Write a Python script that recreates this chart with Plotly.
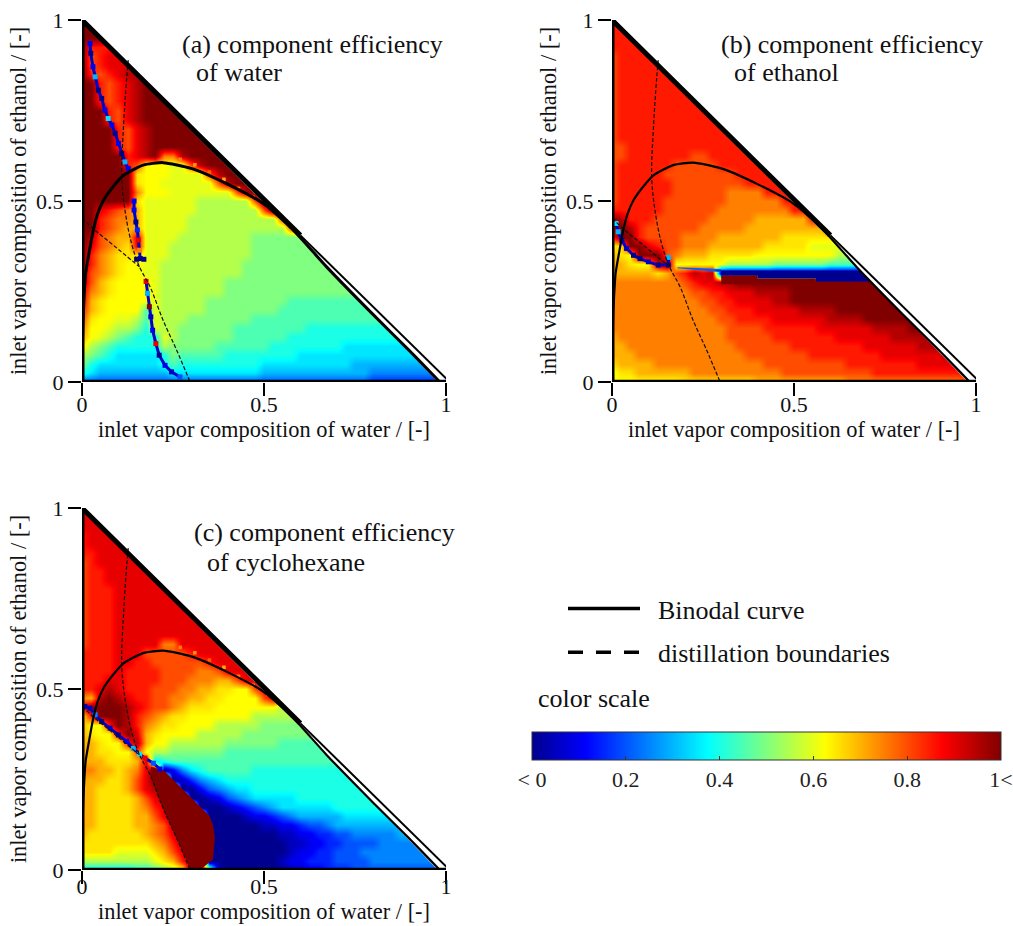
import plotly.graph_objects as go

SERIF = "Liberation Serif"
GRID_STEP = 0.025
N = 41
# Efficiency codes: a=0.00, b=0.05, ... u=1.00, v=0.625 (pure yellow).
# One string per row, from y=1 down to y=0; each string starts at x=0.
panel_a = [
"u","uu","uuu","urrr","uqrss","uqrsss","urqrstt","uurqrstu","uurqrstuu","uurqrstuuu",
"uuurqstuuuu","uuurqstuuuuu","uuuurqstuuuuu","uuuurqstuuuuuu","uuuurqstuuuuuuu",
"uuuuurstupptuuuu","uuuuurqvvvmmqtuuu","uuuuuunvvvmmmmqtuu","uuuuuunvvmmmmmmqtuu",
"uuuuuupvvvmmmmmmmqtu","uuuuuunmmmmmmllllllqu","uusrqpommmmmmlllllllqu",
"uurqppommmmmllllllllllq","uurqpoommmmmlllllllllllq","utqpoosmmmmllllllllkkkkkk",
"usqponsmmmlllllllllkkkkkkk","urponnnmmmlllllllllkkkkkkkk","trponvvmmlllllllllkkkkkkkkkk",
"tqponvvmmlllllllllkkkkkkkkkkk","tqonvvvvmlllllllkkkkkkkkkkkkkk","sponvvvvmlllllllkkkkkkkkkkkkkkk",
"sonvvvvvmlllllkkkkkkkkkjjjjjjjjj","ronvvvvjmlllllkkkkkkkkjjjjjjjjjjj",
"qnvvmmljmlllkkkkkkkjjjjjjjjjjjjjjj","pvvmllkimllkkkkkkjjjjjjjjiiiiiiiiii",
"ovmlkjiiimlkkkkkkjjjjjjiiiiiiiiiiiii","nlkjiiiiilkkkkkjjjjjjiiiiiiiihhhhhhhh",
"lkjihhhhhikjjjjjiiiiiiiihhhhhhhhhhhhhh","kihhhhhhhijiiiiiiiiihhhhhhhhhhggggggggg",
"ihgggggggghhhhhhhhhhggggggggggggffffffff","eeeeeeeeeeeeeeeeeeeeeeeeeeeeeeeeddddddddd",
]
panel_b = [
"r","rr","rrr","rrrr","qrrrr","qrrrrr","qrrrrrr","qrrrrrrr","qrrrrrrrr","qrrrrrrrrr",
"qrrrrrrrrrr","qrrrrrrrrrrr","qrrrrrrrrrrrr","qrrrrrrrrrrrrr","qqrrrrrrrrrrrrr",
"qqrrrrrrrqqrrrrr","qrrrrrrqqqqqrrrrr","qrrrrrqqqqqqqqrrrr","qrrrrrrqqqqqqqqrrrr",
"qrrrrrrqqqqqqpppprrr","qrrrrrqqqqqqqpppppprr","rrrrrrqqqqqqpppppppprr",
"utrrrqqqqqqpppppoooooor","tutrqqqqqqpppppooooooooor","ruurqqqqppppooooooonnnnnn",
"nnuusrqqpppoooooonnnnnmmmm","onvuuuqpooonnnnnvvvvvvvvvll","oonvvtuvvvvvvlllllkkkkkkjjjj",
"ooooonoqrtstaaaaaaaaaaaaaaaaa","ppppppppqrssttuuuuuuuuuuuuuuuu","pppppppppqqrrsssttttuuuuuuuuuuu",
"ppppppppppqqrrssssttuuuuuuuuuuuu","pppppppppppqqrrrsssssttttuuuuuuuu",
"ppppppppppppqqrrrrssssssttttuuuuuu","pppppppppppppqqqqrrrrrrssssssttttuu",
"oppppppppppppqqqqqrrrrrrrssssssttttt","ooppppppppppppqqqqqqrrrrrrrrssssssttt",
"oooppppppppppppqqqqqqqrrrrrrrrssssssst","nooooppppppppppppqqqqqqqqqrrrrrrrrsssss",
"mnnooooooppppppppppqqqqqqqqqqrrrrrrrrrrr","vvvvvvvvnnnnnnnnoooooooooopppppppppppppqq",
]
panel_c = [
"s","ss","sss","rsss","rssss","rrssss","qrsssss","qrrsssss","qrrssssss","qrrrssssss",
"qrrrsssssss","qrrrssssssss","qrrrsssssssss","qrrrssssssssss","qrrrsssssssssss",
"qrrrsssssppsssss","rrrrsssqqqqqrssss","rrrrssrrqqqqqqrsss","rrrrsrrrrqqqqppqsss",
"rrrssrrrrqqqpppooqss","rrstsrrrqqqppoonnvvqs","potutsrrqqppoonnvvvvqs",
"ruuuutsrqqponnnvvvvvvvl","nruuutrqponnvvvvvvvlllll","ovvrutrponnvvvvlllllkkkkk",
"onvvrusonvvvvlllllkkkkkkkk","oonvvrtovvllllllkkkkkkjjjjj","oonnvvqvllkkkkkkjjjjjjjjjjjj",
"ooonnnoshijjjjjjjjjjjjjjjjjjj","ppoonopsuacfhijjjjjiiiiiiiiiii","ooonnoqsuuabdfghiiiiiiiiiiiiiii",
"oonnnoqstuuaacefghhiiiiiiiiiiiii","oonnnnoqstuuaabcefghhhhhiiiiiiiii",
"oonnnnoprsuuuaaabcdefghhhhhhiiiiii","oonnnnooqstuuuaaaabccdefggggghhhhhh",
"oonnnnoopqtuuuaaaaaabbccdeefgggggggg","onnnnnnopqsuuuaaaaaaaabbccddeefffffgg",
"nnnnnnnnoprtuuaaaaaaaaabbccddeeeefffff","nnnnmmmmnoqsuuaaaaaaaaabccddeeefffffffff",
"llllllllmnortuaaaaaaaabccdddeeeeffffffff","hhhhhhiijklmuumbaaaaaaabbccdddeeeeeeeeeee",
]

axis_x = [j * GRID_STEP for j in range(N)]
axis_y = [i * GRID_STEP for i in range(N)]


def decode(rows):
    grid = []
    for row in reversed(rows):
        padded = row[:N].ljust(N, row[-1])
        grid.append([0.625 if c == "v" else (ord(c) - 97) * 0.05 for c in padded])
    return grid


binodal_x = [0, .001, .004, .01, .02, .031, .043, .059, .086, .114, .168, .223, .3, .397, .498, .58, .672, .8, .9, .983]
binodal_y = [0, .1, .2, .3, .36, .419, .465, .502, .54, .571, .599, .606, .59, .548, .493, .42, .318, .186, .086, 0]
boundary1_x = [.127, .123, .114, .109, .118, .136, .158, .187, .223, .26, .295]
boundary1_y = [.889, .843, .705, .567, .475, .383, .318, .263, .17, .088, .005]
boundary2_x = [0, .036, .086, .158]
boundary2_y = [.452, .419, .378, .318]
edge_upper_x = [0, 0, .6]
edge_upper_y = [0, 1, .405]
edge_lower_x = [.6, 1.015]
edge_lower_y = [.405, -.005]
base_x = [0, 1.0]
base_y = [0, 0]
mask_x = [0, .6, .983, 1.03, 1.03, 0]
mask_y = [1, .4, 0, 0, 1.03, 1.03]

# sharp-edged regions that the coarse grid cannot hold
blue_b_x = [.28, .3, .3, .4, .4, .56, .56, .72, .72, .28]
blue_b_y = [.308, .305, .295, .295, .286, .286, .277, .277, .307, .308]
sky_b_x = [.18, .3, .3, .18]
sky_b_y = [.317, .312, .303, .314]
red_b_x = [.3, .4, .4, .56, .56, .72, .72, .3]
red_b_y = [.295, .295, .286, .286, .277, .277, .27, .27]
red_c_x = [.19, .225, .25, .275, .30, .325, .35, .36, .365, .36, .33, .3, .295, .26, .223, .187]
red_c_y = [.285, .275, .25, .225, .2, .175, .15, .125, .09, .03, .005, .005, .009, .088, .17, .263]

# thin speckled discontinuity lines
specks_a_x = [.022, .024, .03, .036, .045, .054, .063, .072, .082, .091, .1, .109, .118, .127, None,
              .143, .143, .148, .152, .155, .158, .16, .15, .17, None,
              .176, .18, .185, .189, .194, .203, .212, .228, .246, .269]
specks_a_y = [.935, .908, .871, .843, .806, .783, .751, .728, .71, .687, .659, .631, .608, .59, None,
              .50, .475, .442, .42, .392, .364, .341, .339, .339, None,
              .278, .245, .208, .18, .143, .106, .074, .046, .028, .014]
specks_a_v = [.1, 0, .1, .3, 0, 0, .1, .35, .1, 0, .1, 0, .3, .1, 0,
              .1, .1, 0, .15, .9, .75, 0, 0, 0, 0,
              .9, .3, 1, .05, .1, .9, 0, .1, .05, .2]
specks_b_x = [.011, .017, .027, .04, .059, .077, .1, .127, .155, .155]
specks_b_y = [.438, .415, .392, .369, .35, .341, .332, .323, .323, .344]
specks_b_v = [.35, .3, .05, .05, 0, 0, .05, 0, 0, .3]
specks_c_x = [.008, .022, .036, .054, .077, .1, .123, .141, .158, .173, .196, .214]
specks_c_y = [.452, .447, .429, .41, .392, .373, .355, .336, .32, .309, .295, .279]
specks_c_v = [.05, .05, .25, 0, .05, 0, .1, .3, .35, .9, .2, .1]
fringe_x = [.27, .31, .35, .39, .43, .47, .51, .55]
fringe_y = [.615, .6, .58, .56, .535, .51, .485, .455]
fringe_v = [.75, .72, .78, .7, .75, .72, .78, .75]

tick_vals = [0, .5, 1]
tick_text = ["0", "0.5", "1"]
scale_vals = [0, .2, .4, .6, .8, 1]
scale_text = ["< 0", "0.2", "0.4", "0.6", "0.8", "1<"]
jet = [[0, "#00008f"], [.115, "#0000ff"], [.375, "#00ffff"], [.625, "#ffff00"], [.875, "#ff0000"], [1, "#800000"]]

W, H = 1013, 926
panels = [
    ("x", "y", panel_a, 82, 382, 20, 3.0, (specks_a_x, specks_a_y, specks_a_v), True, [], -10),
    ("x2", "y2", panel_b, 612, 382, 20, 2.2, (specks_b_x, specks_b_y, specks_b_v), False,
     [(red_b_x, red_b_y, "#800000"), (sky_b_x, sky_b_y, "#0060ff"), (blue_b_x, blue_b_y, "#00008f")], -10),
    ("x3", "y3", panel_c, 82, 870, 508, 2.2, (specks_c_x, specks_c_y, specks_c_v), True,
     [(red_c_x, red_c_y, "#800000")], -16),
]

fig = go.Figure()
layout_axes = {}
for k, (xa, ya, rows, left, bottom, top, bw, specks, has_fringe, patches, lab_off) in enumerate(panels):
    cb = None
    if k == 0:
        cb = dict(orientation="h", lenmode="pixels", len=469, thicknessmode="pixels", thickness=28,
                  x=532 / W, xanchor="left", y=(H - 732) / H, yanchor="top", xpad=0, ypad=0,
                  tickmode="array", tickvals=scale_vals, ticktext=scale_text, ticks="inside", ticklen=4,
                  tickcolor="#333", tickwidth=1, outlinewidth=1, outlinecolor="#333",
                  tickfont=dict(family=SERIF, size=22, color="#222"))
    fig.add_trace(go.Heatmap(x=axis_x, y=axis_y, z=decode(rows), xaxis=xa, yaxis=ya, zmin=0, zmax=1,
                             colorscale=jet, zsmooth="best", showscale=k == 0, colorbar=cb, hoverinfo="skip"))
    for px_, py_, col in patches:
        fig.add_trace(go.Scatter(x=px_, y=py_, xaxis=xa, yaxis=ya, mode="lines", fill="toself", fillcolor=col,
                                 line=dict(width=0, color=col), showlegend=False, hoverinfo="skip"))
    fig.add_trace(go.Scatter(x=mask_x, y=mask_y, xaxis=xa, yaxis=ya, mode="lines", fill="toself", fillcolor="white",
                             line=dict(width=3, color="white"), showlegend=False, hoverinfo="skip", cliponaxis=False))
    fig.add_trace(go.Scatter(x=specks[0], y=specks[1], xaxis=xa, yaxis=ya, mode="lines+markers",
                             line=dict(color="#0000c8", width=3),
                             marker=dict(symbol="square", size=5, color=specks[2], colorscale=jet, cmin=0, cmax=1,
                                         line=dict(width=0)),
                             showlegend=False, hoverinfo="skip"))
    if has_fringe:
        fig.add_trace(go.Scatter(x=fringe_x, y=fringe_y, xaxis=xa, yaxis=ya, mode="markers",
                                 marker=dict(symbol="square", size=3.5, color=fringe_v, colorscale=jet, cmin=0, cmax=1,
                                             line=dict(width=0)),
                                 showlegend=False, hoverinfo="skip"))
    for bx, by in [(boundary1_x, boundary1_y), (boundary2_x, boundary2_y)]:
        fig.add_trace(go.Scatter(x=bx, y=by, xaxis=xa, yaxis=ya, mode="lines",
                                 line=dict(color="#111", width=1.2, dash="4px,2px", shape="spline"),
                                 showlegend=False, hoverinfo="skip", cliponaxis=False))
    fig.add_trace(go.Scatter(x=binodal_x, y=binodal_y, xaxis=xa, yaxis=ya, mode="lines",
                             line=dict(color="#000", width=bw, shape="spline", smoothing=0.6),
                             showlegend=False, hoverinfo="skip", cliponaxis=False))
    for ex, ey, w in [(edge_upper_x, edge_upper_y, 5), (base_x, base_y, 4.5), (edge_lower_x, edge_lower_y, 2)]:
        fig.add_trace(go.Scatter(x=ex, y=ey, xaxis=xa, yaxis=ya, mode="lines",
                                 line=dict(color="#000", width=w), showlegend=False, hoverinfo="skip", cliponaxis=False))
    suffix = xa[1:]
    common = dict(range=[0, 1], showgrid=False, zeroline=False, showline=False, ticks="outside", ticklen=13,
                  tickwidth=2, tickcolor="#000", tickmode="array", tickvals=tick_vals, ticktext=tick_text,
                  automargin=True, tickfont=dict(family=SERIF, size=22, color="#111"))
    layout_axes["xaxis" + suffix] = dict(common, domain=[left / W, (left + 364) / W], anchor=ya, ticklabelstandoff=lab_off,
                                         title=dict(text="inlet vapor composition of water / [-]", standoff=2,
                                                    font=dict(family=SERIF, size=22.4, color="#111")))
    layout_axes["yaxis" + suffix] = dict(common, domain=[(H - bottom) / H, (H - top) / H], anchor=xa,
                                         title=dict(text="inlet vapor composition of ethanol / [-]", standoff=3,
                                                    font=dict(family=SERIF, size=22.4, color="#111")))

fig.add_trace(go.Scatter(x=[None], y=[None], mode="lines", name="\u00a0\u00a0Binodal curve", legendgroup="g1",
                         line=dict(color="#000", width=3.5)))
fig.add_trace(go.Scatter(x=[None], y=[None], mode="lines", name="\u00a0\u00a0distillation boundaries", legendgroup="g2",
                         line=dict(color="#000", width=3.5, dash="15px,13px")))

notes = [
    (181, 44, "(a) component efficiency"), (195, 73, "of water"),
    (720, 44, "(b) component efficiency"), (733, 73, "of ethanol"),
    (193, 532, "(c) component efficiency"), (206, 562, "of cyclohexane"),
    (537, 698, "color scale"),
]
annotations = [dict(x=px / W, y=1 - py / H, xref="paper", yref="paper", text=t, showarrow=False,
                    xanchor="left", yanchor="middle", xshift=-1, font=dict(family=SERIF, size=26, color="#111"))
               for px, py, t in notes]

fig.update_layout(width=W, height=H, margin=dict(l=0, r=0, t=0, b=0, autoexpand=False), autosize=False,
                  paper_bgcolor="white", plot_bgcolor="white", annotations=annotations,
                  legend=dict(x=563 / W, y=1 - 585 / H, xanchor="left", yanchor="top", itemwidth=72,
                              tracegroupgap=7, traceorder="grouped", bgcolor="rgba(0,0,0,0)",
                              font=dict(family=SERIF, size=26, color="#111")),
                  **layout_axes)
fig.write_html("out.html", config={"displayModeBar": False},
               post_script="document.body.style.margin='0';document.body.style.overflow='hidden';")
